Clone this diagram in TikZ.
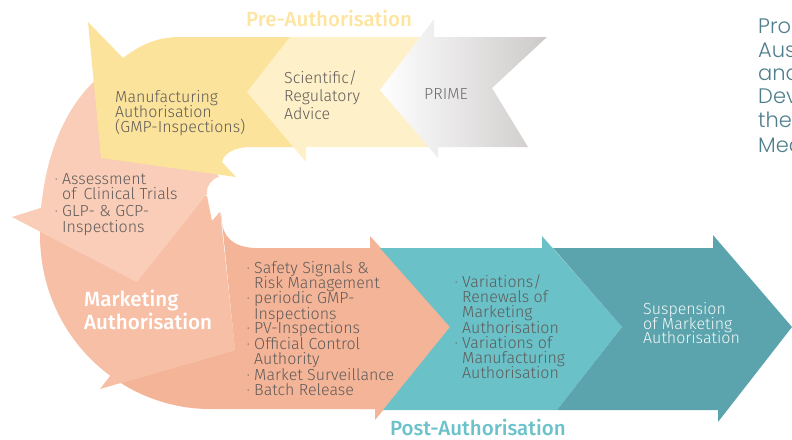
\documentclass[tikz,border=0pt]{standalone}
\usepackage{fontspec}
\setmainfont{Fira Sans Light}
\newfontfamily\headfont{Fira Sans Medium}
\newfontfamily\sidefont{Poppins Light}

\definecolor{salmon}{HTML}{F4B497}
\definecolor{mkt}{HTML}{F7BFA5}
\definecolor{assess}{HTML}{F9CDB8}
\definecolor{yel}{HTML}{FCE39B}
\definecolor{lyel}{HTML}{FEF0C8}
\definecolor{primegray}{HTML}{CDC9C9}
\definecolor{tealA}{HTML}{6AC1C8}
\definecolor{tealB}{HTML}{5CA4AD}
\definecolor{pretxt}{HTML}{FDE5A1}
\definecolor{posttxt}{HTML}{6CC2CA}
\definecolor{sidetxt}{HTML}{4F7F8D}
\definecolor{txtgray}{HTML}{5F5B5A}

\newcommand\bul{\makebox[7pt][l]{\raisebox{1.5pt}{\fontsize{8.5}{8.5}\selectfont\textbullet}}}

\begin{document}
\begin{tikzpicture}[x=1pt, y=-1pt,
  every node/.style={inner sep=0pt, anchor=base west},
  txt/.style={font=\fontsize{16}{16}\selectfont, text=txtgray},
  title/.style={font=\headfont\fontsize{20.5}{20.5}\selectfont},
  side/.style={font=\sidefont\fontsize{21}{21}\selectfont, text=sidetxt}]
  \useasboundingbox (0,0) rectangle (792,439);
  \clip (0,0) rectangle (792,439);

  % bottom band head and the round part
  \fill[salmon] (360,248) -- (370,248) -- (370,236) -- (452,327) -- (375,420) -- (375,409) -- (360,409) -- cycle;
  \begin{scope}
    \clip (100,76) .. controls (60,110) and (40,170) .. (40,235) .. controls (40,335) and (120,409) .. (210,409) -- (380,409) -- (380,20) -- cycle;
    \fill[salmon] (0,420) -- (100,389) -- (235,350) -- (221,212) .. controls (221,232) and (228,247) .. (255,248) -- (380,248) -- (380,420) -- cycle;
    \fill[mkt] (0,200) -- (207,196) -- (212,221) -- (220,212) -- (235,350) -- (0,418) -- cycle;
    \fill[assess] (0,60) -- (215,60) -- (215,172) -- (219,176.5) .. controls (210,180) and (206,188) .. (207,194) -- (137,282) -- (0,211) -- cycle;
  \end{scope}
  \fill[mkt] (220,212) -- (235,350) -- (100,389) -- (130,350) -- (200,235) -- cycle;
  \fill[assess] (12,217) -- (137,282) -- (120,220) -- (50,205) -- cycle;

  % pre-authorisation arrows
  \fill[yel] (88,22) -- (123,58) .. controls (140,45) and (155,38) .. (177,37) -- (300,37) -- (300,147) -- (252,147) .. controls (235,147) and (224,153) .. (222,162) -- (236,177) -- (101,158) -- cycle;
  \fill[lyel] (247,92) -- (290,37) -- (440,37) -- (440,147) -- (306,147) -- (306,162) -- cycle;
  \shade[left color=white, right color=primegray] (380,90) -- (434,19) -- (434,37) -- (547,37) -- (492,88) -- (528,147) -- (438,147) -- (438,158) -- cycle;

  % post-authorisation arrows
  \fill[tealA] (380,248) -- (542,248) -- (542,236) -- (622,327) -- (557,410) -- (383,410) -- (450,327) -- cycle;
  \fill[tealB] (553,248) -- (713,248) -- (713,235) -- (792,327) -- (718,422) -- (718,410) -- (557,410) -- (622,327) -- cycle;

  \node[title, text=pretxt] (pre) at (246,26) {Pre-Authorisation};
  \node[title, text=posttxt] (post) at (390,435) {Post-Authorisation};

  \node[txt] (ma1) at (115,102) {Manufacturing};
  \node[txt] (ma2) at (115,117) {Authorisation};
  \node[txt] (ma3) at (115,132) {(GMP-Inspections)};

  \node[txt] (sc1) at (284,83) {Scientific/};
  \node[txt] (sc2) at (284,101) {Regulatory};
  \node[txt] (sc3) at (284,119) {Advice};

  \node[txt, text=black!58] (prime) at (424,99) {PRIME};

  \node[txt] (as1) at (55,184) {\bul Assessment};
  \node[txt] (as2) at (62,199) {of\, Clinical Trials};
  \node[txt] (as3) at (55,216) {\bul GLP- \& GCP-};
  \node[txt] (as4) at (62,232) {Inspections};

  \node[font=\headfont\fontsize{20.6}{20.6}\selectfont, text=white] (mk1) at (84,306) {Marketing};
  \node[font=\headfont\fontsize{20.6}{20.6}\selectfont, text=white] (mk2) at (84,329) {Authorisation};

  \node[txt] (sf1) at (247,273) {\bul Safety Signals \&};
  \node[txt] (sf2) at (254,288) {Risk Management};
  \node[txt] (sf3) at (247,303) {\bul periodic GMP-};
  \node[txt] (sf4) at (254,319) {Inspections};
  \node[txt] (sf5) at (247,333) {\bul PV-Inspections};
  \node[txt] (sf6) at (247,349) {\bul Official Control};
  \node[txt] (sf7) at (254,364) {Authority};
  \node[txt] (sf8) at (247,380) {\bul Market Surveillance};
  \node[txt] (sf9) at (247,395) {\bul Batch Release};

  \node[txt] (va1) at (455,287) {\bul Variations/};
  \node[txt] (va2) at (462,302) {Renewals of};
  \node[txt] (va3) at (462,317) {Marketing};
  \node[txt] (va4) at (462,333) {Authorisation};
  \node[txt] (va5) at (455,348) {\bul Variations of};
  \node[txt] (va6) at (462,363) {Manufacturing};
  \node[txt] (va7) at (462,378) {Authorisation};

  \node[txt, text=white!92!tealB] (su1) at (643,314) {Suspension};
  \node[txt, text=white!92!tealB] (su2) at (643,329) {of Marketing};
  \node[txt, text=white!92!tealB] (su3) at (643,343) {Authorisation};

  \node[side] (sd1) at (758,33) {Pro};
  \node[side] (sd2) at (758,57) {Aus};
  \node[side] (sd3) at (758,80) {and};
  \node[side] (sd4) at (758,103) {Dev};
  \node[side] (sd5) at (758,127) {the};
  \node[side] (sd6) at (758,152) {Med};
\end{tikzpicture}
\end{document}
